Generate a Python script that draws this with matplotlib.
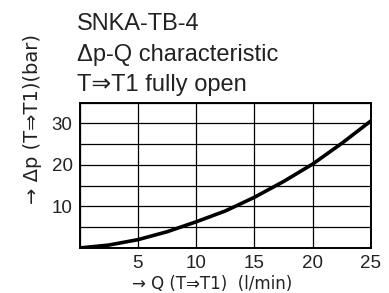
import matplotlib
matplotlib.use("Agg")
import matplotlib.pyplot as plt

plt.rcParams['font.family'] = ['Liberation Sans', 'DejaVu Sans']

# Δp-Q Kennlinie
q = [0, 2.5, 5, 7.5, 10, 12.5, 15, 17.5, 20, 22.5, 25]
dp = [0, 0.7, 2.0, 3.9, 6.3, 8.9, 12.2, 16.0, 20.2, 25.2, 30.6]

x_ticks = [5, 10, 15, 20, 25]
y_ticks = [10, 20, 30]

title_lines = ["SNKA-TB-4", "\u0394p-Q characteristic", "T\u21d2T1 fully open"]

fig = plt.figure(figsize=(3.89, 2.93), dpi=100)
ax = fig.add_axes([0.2044, 0.1536, 0.7493, 0.4964])

ax.plot(q, dp, color="black", lw=2.6, solid_capstyle="butt", zorder=3)

ax.set_xlim(0, 25)
ax.set_ylim(0, 35)
ax.set_xticks(range(0, 26, 5))
ax.set_yticks(range(0, 36, 5))
ax.set_xticklabels([""] + [str(t) for t in x_ticks])
ax.set_yticklabels(["" if v not in y_ticks else str(v) for v in range(0, 36, 5)])
ax.grid(True, color="black", lw=0.9)
ax.tick_params(length=0, labelsize=13.5, pad=5, colors="#222")
for s in ax.spines.values():
    s.set_linewidth(1.4)

ax.set_xlabel("\u2192 Q (T\u21d2T1)  (l/min)", fontsize=12, color="#222", family="DejaVu Sans")
ax.xaxis.set_label_coords(0.455, -0.185)
ax.set_ylabel("\u2192 \u0394p (T\u21d2T1)(bar)", fontsize=14, color="#222", family="DejaVu Sans")
ax.yaxis.set_label_coords(-0.13, 0.89)

for i, t in enumerate(title_lines):
    fig.text(77 / 389, 1 - (30 + 30.5 * i) / 293, t, fontsize=17, color="#222", va="baseline")

fig.savefig("out.png", dpi=100)
